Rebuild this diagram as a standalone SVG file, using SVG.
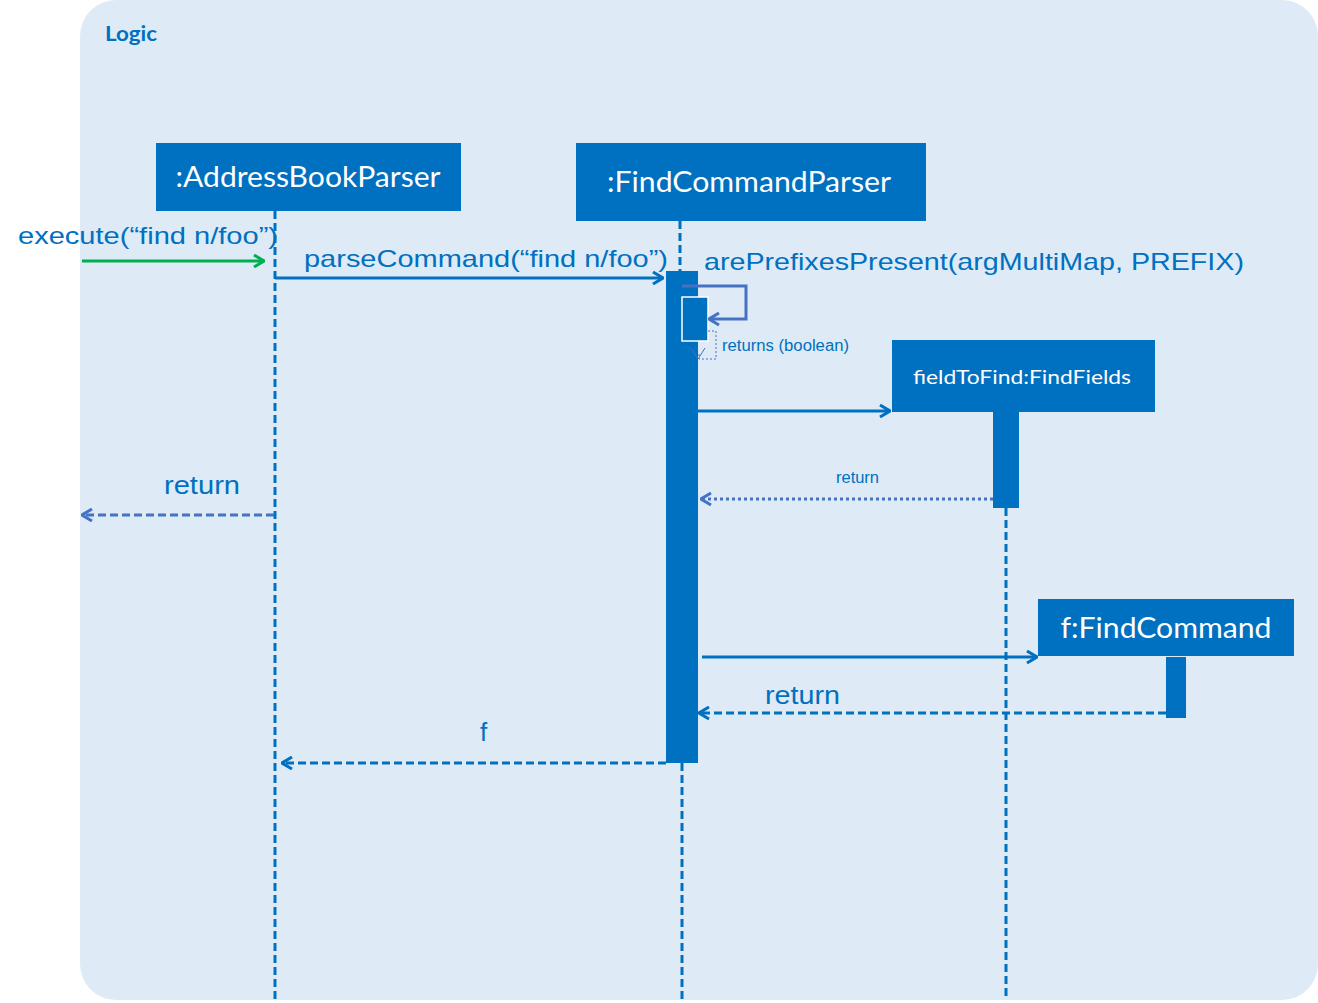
<svg xmlns="http://www.w3.org/2000/svg" width="1318" height="1003" viewBox="0 0 1318 1003">
<style>
.box{fill:#0070C0}
.bt{fill:#ffffff;font-family:Lato,"Open Sans",sans-serif}
.msg{fill:#0070C0;font-family:"Liberation Sans",Arial,sans-serif}
.life{stroke:#0070C0;stroke-width:3;stroke-dasharray:8 4;fill:none}
.act{fill:#0070C0}
.solid{stroke:#0070C0;stroke-width:3;fill:none}
.ret{stroke:#0070C0;stroke-width:3;fill:none;stroke-dasharray:8 4}
.retl{stroke:#4472C4;stroke-width:3;fill:none;stroke-dasharray:8 4}
.dot{stroke:#4472C4;stroke-width:3;fill:none;stroke-dasharray:3 3}
</style>
<defs>
<marker id="ah" viewBox="0 0 12 14" refX="11" refY="7" markerWidth="12" markerHeight="14" markerUnits="userSpaceOnUse" orient="auto">
<path d="M1,1 L11,7 L1,13" fill="none" stroke="#0070C0" stroke-width="3"/>
</marker>
<marker id="ahg" viewBox="0 0 12 14" refX="11" refY="7" markerWidth="12" markerHeight="14" markerUnits="userSpaceOnUse" orient="auto">
<path d="M1,1 L11,7 L1,13" fill="none" stroke="#00B050" stroke-width="3"/>
</marker>
<marker id="ahl" viewBox="0 0 12 14" refX="11" refY="7" markerWidth="12" markerHeight="14" markerUnits="userSpaceOnUse" orient="auto">
<path d="M1,1 L11,7 L1,13" fill="none" stroke="#4472C4" stroke-width="3"/>
</marker>
</defs>
<rect x="0" y="0" width="1318" height="1003" fill="#ffffff"/>
<g id="frame">
<rect x="80" y="0" width="1238" height="1000" rx="36" ry="36" fill="#DEEAF6"/>
<text x="105" y="41" font-family="Lato,'Open Sans',sans-serif" font-weight="bold" font-size="21" fill="#0070C0" textLength="52" lengthAdjust="spacingAndGlyphs">Logic</text>
</g>
<g id="addressBookParser">
<line class="life" x1="275" y1="211" x2="275" y2="1000"/>
<rect class="box" x="156" y="143" width="305" height="68"/>
<text class="bt" x="308" y="187" font-size="29" text-anchor="middle" textLength="265" lengthAdjust="spacingAndGlyphs">:AddressBookParser</text>
</g>
<g id="findCommandParser">
<line class="life" x1="680" y1="221" x2="680" y2="271"/>
<line class="life" x1="682" y1="763" x2="682" y2="1000"/>
<rect class="box" x="576" y="143" width="350" height="78"/>
<text class="bt" x="749" y="192" font-size="29" text-anchor="middle" textLength="284" lengthAdjust="spacingAndGlyphs">:FindCommandParser</text>
<rect class="act" x="666" y="271" width="32" height="492"/>
<rect x="682" y="297" width="26" height="44" fill="#0070C0" stroke="#ffffff" stroke-width="1.5"/>
</g>
<g id="fieldToFind">
<line class="life" x1="1006" y1="508" x2="1006" y2="1000"/>
<rect class="box" x="892" y="340" width="263" height="72"/>
<text class="bt" x="1022" y="384" font-size="20" text-anchor="middle" textLength="218" lengthAdjust="spacingAndGlyphs">fieldToFind:FindFields</text>
<rect class="act" x="993" y="412" width="26" height="96"/>
</g>
<g id="findCommand">
<rect class="box" x="1038" y="599" width="256" height="57"/>
<text class="bt" x="1166" y="638" font-size="29" text-anchor="middle" textLength="211" lengthAdjust="spacingAndGlyphs">f:FindCommand</text>
<rect class="act" x="1166" y="657" width="20" height="61"/>
</g>
<g id="connectors">
<line x1="82" y1="261" x2="264" y2="261" stroke="#00B050" stroke-width="3" marker-end="url(#ahg)"/>
<text class="msg" x="18" y="244" font-size="24" textLength="260" lengthAdjust="spacingAndGlyphs">execute(“find n/foo”)</text>
<line class="solid" x1="275" y1="278" x2="663" y2="278" marker-end="url(#ah)"/>
<text class="msg" x="304" y="267" font-size="24" textLength="364" lengthAdjust="spacingAndGlyphs">parseCommand(“find n/foo”)</text>
<path d="M682,286 L746,286 L746,319 L709,319" stroke="#4472C4" stroke-width="3" fill="none" marker-end="url(#ahl)"/>
<text class="msg" x="704" y="270" font-size="24" textLength="540" lengthAdjust="spacingAndGlyphs">arePrefixesPresent(argMultiMap, PREFIX)</text>
<path d="M708,331 L716,331 L716,359 L699,359 L699,352" stroke="#4472C4" stroke-width="1" fill="none" stroke-dasharray="2 2"/>
<path d="M691,348 L698,359 L705,348" stroke="#4472C4" stroke-width="1" fill="none"/>
<text class="msg" x="722" y="351" font-size="16" textLength="127" lengthAdjust="spacingAndGlyphs">returns (boolean)</text>
<line class="solid" x1="698" y1="411" x2="890" y2="411" marker-end="url(#ah)"/>
<line class="dot" x1="993" y1="499" x2="701" y2="499" marker-end="url(#ahl)"/>
<text class="msg" x="836" y="483" font-size="16" textLength="43" lengthAdjust="spacingAndGlyphs">return</text>
<line class="retl" x1="274" y1="515" x2="82" y2="515" marker-end="url(#ahl)"/>
<text class="msg" x="164" y="494" font-size="26" textLength="76" lengthAdjust="spacingAndGlyphs">return</text>
<line class="solid" x1="702" y1="657" x2="1037" y2="657" marker-end="url(#ah)"/>
<line class="ret" x1="1166" y1="713" x2="699" y2="713" marker-end="url(#ah)"/>
<text class="msg" x="765" y="704" font-size="26" textLength="75" lengthAdjust="spacingAndGlyphs">return</text>
<line class="ret" x1="666" y1="763" x2="282" y2="763" marker-end="url(#ah)"/>
<text class="msg" x="480" y="741" font-size="26">f</text>
</g>
</svg>
